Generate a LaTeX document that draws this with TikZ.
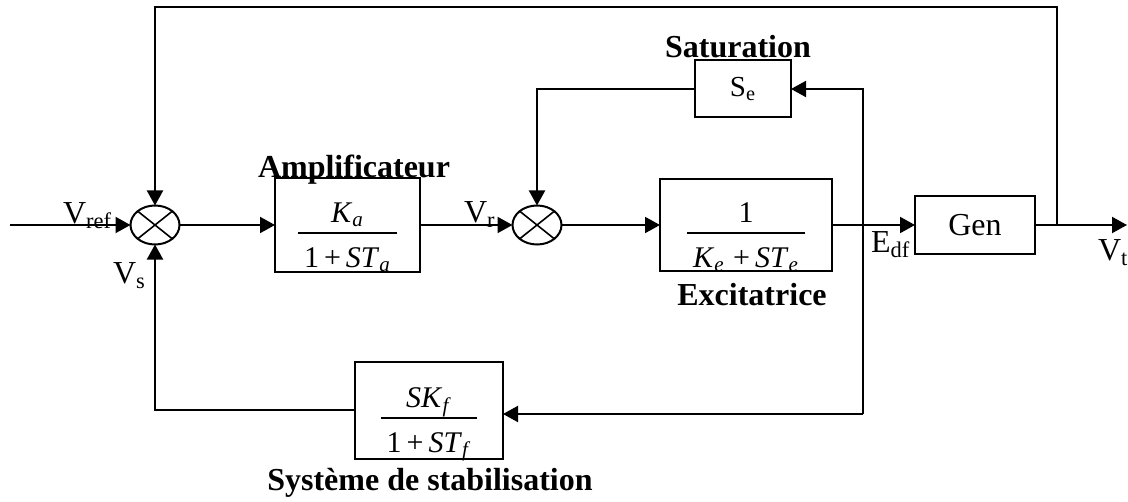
\documentclass[tikz,border=0pt]{standalone}
\usepackage{fontspec}
\setmainfont{Liberation Serif}
\usetikzlibrary{positioning,shapes.geometric,arrows.meta}
\newcommand{\blkfrac}[2]{{\fontsize{15}{15}\selectfont\setlength{\arrayrulewidth}{0.8pt}\begin{tabular}[b]{@{\hspace{3pt}}c@{\hspace{3pt}}}#1\rule[-5pt]{0pt}{0pt}\\\hline\rule{0pt}{16.5pt}#2\end{tabular}}}

\begin{document}
\begin{tikzpicture}[x=0.5pt,y=-0.5pt,line width=1pt,>={Triangle[length=7.5pt,width=8pt]},
  blk/.style={draw,rectangle,inner sep=0pt,outer sep=0pt,font=\fontsize{16}{18}\selectfont},
  fracblk/.style={blk,text height=44pt,text depth=2pt},
  sum/.style={draw,ellipse,minimum width=24.5pt,minimum height=19.5pt,inner sep=0pt,outer sep=0pt},
  lbl/.style={font=\fontsize{16}{18}\selectfont\bfseries,anchor=base,inner sep=0pt},
  sig/.style={font=\fontsize{16}{18}\selectfont,anchor=base west,inner sep=0pt}]
        \useasboundingbox (0,0) rectangle (1128,502);
        % blocks
        \node[sum] (s1) at (155,225) {};
        \node[fracblk,minimum width=72.5pt,minimum height=47pt] (amp) at (347.5,225) {\blkfrac{\textit{K}\textsubscript{\textit{a}}}{1\,+\,\textit{ST}\textsubscript{\textit{a}}}};
        \node[sum] (s2) at (537,225) {};
        \node[fracblk,minimum width=86pt,minimum height=45pt] (exc) at (746,225) {\blkfrac{1}{\textit{K}\textsubscript{\textit{e}}\;+\,\textit{ST}\textsubscript{\textit{e}}}};
        \node[blk,minimum width=48pt,minimum height=28.5pt,font=\fontsize{14.5}{16}\selectfont] (sat) at (743,89) {S\textsubscript{e}};
        \node[blk,minimum width=60pt,minimum height=29pt] (gen) at (975,225) {Gen};
        \node[fracblk,minimum width=74pt,minimum height=48.5pt] (stab) at (429,410) {\blkfrac{\textit{SK}\textsubscript{\textit{f}}}{1\,+\,\textit{ST}\textsubscript{\textit{f}}}};
        \foreach \s in {s1,s2}
          \draw[line width=0.8pt] (\s.north west) -- (\s.south east) (\s.north east) -- (\s.south west);
        % titles
        \node[lbl] (amplbl) at (354,177) {Amplificateur};
        \node[lbl] (satlbl) at (738,58) {Saturation};
        \node[lbl] (exclbl) at (752,305) {Excitatrice};
        \node[lbl] (stablbl) at (430,490) {Système de stabilisation};
        % signals
        \node[sig] (vref) at (62,223) {V\textsubscript{ref}};
        \node[sig] (vs) at (112,283) {V\textsubscript{s}};
        \node[sig] (vr) at (463,222) {V\textsubscript{r}};
        \node[sig] (edf) at (870,252) {E\textsubscript{df}};
        \node[sig] (vt) at (1097,260) {V\textsubscript{t}};
        % connections
        \coordinate (in) at (10,225);
        \coordinate (out) at (1127,225);
        \coordinate (j2) at (1057,225);
        \coordinate (top) at (1057,7);
        \coordinate (fb) at (863,414);
        \draw[->] (in) -- (s1.west);
        \draw[->] (s1.east) -- (amp.west);
        \draw[->] (amp.east) -- (s2.west);
        \draw[->] (s2.east) -- (exc.west);
        \draw[->] (exc.east) -- (gen.west);
        \draw[->] (gen.east) -- (out);
        \draw[->] (j2) -- (top) -| (s1.north);
        \draw[->] (fb) |- (sat.east);
        \draw[->] (fb) -- (fb -| stab.east);
        \draw[->] (sat.west) -| (s2.north);
        \draw[->] (stab.west) -| (s1.south);
\end{tikzpicture}
\end{document}
